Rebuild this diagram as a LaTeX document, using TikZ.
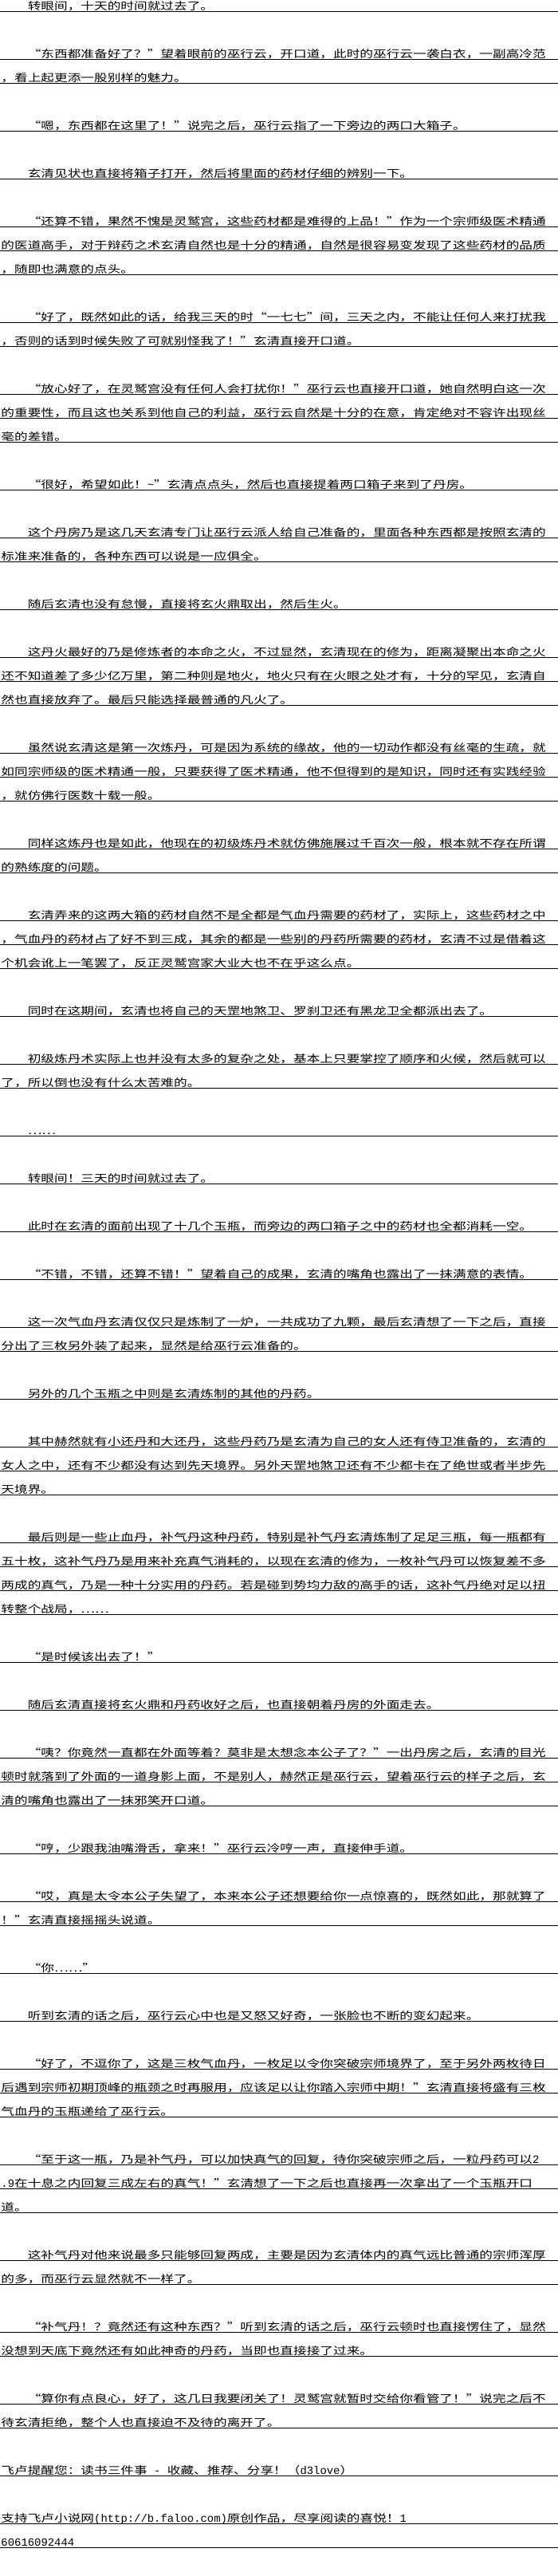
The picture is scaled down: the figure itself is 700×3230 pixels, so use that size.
\documentclass[tikz,border=0pt]{standalone}
\usepackage{fontspec}
\setmainfont[FakeStretch=1.282,RawFeature=+fwid]{Noto Sans CJK SC}
\newfontfamily\halfw{Liberation Mono}
\newcommand\hw[1]{{\halfw\fontsize{13.9}{14}\selectfont #1}}

\begin{document}
\begin{tikzpicture}[x=1pt,y=-1pt,
	txt/.style={anchor=base west,inner sep=0pt,outer sep=0pt,font=\fontsize{13}{13}\selectfont},
	rule/.style={line width=1pt}]
		\fill[white] (0,0) rectangle (700,3230);
		\useasboundingbox (0,0) rectangle (700,3230);
		\foreach \k in {0,2,3,5,7,9,10,11,13,14,16,17,18,20,22,23,25,27,28,29,31,32,33,35,36,38,39,40,42,44,45,47,49,51,53,55,56,58,60,61,62,64,65,66,67,69,71,73,74,75,77,79,80,82,84,86,87,88,90,91,92,94,95,97,98,100,101,103,105,106}
			\draw[rule] (0,14.3+30*\k) -- (700,14.3+30*\k);
		\node[txt] (r0) at (34.8,12.8) {转眼间，十天的时间就过去了。};
		\node[txt] (r2) at (34.8,72.8) {“东西都准备好了？”望着眼前的巫行云，开口道，此时的巫行云一袭白衣，一副高冷范};
		\node[txt] (r3) at (1.5,102.8) {，看上起更添一股别样的魅力。};
		\node[txt] (r5) at (34.8,162.8) {“嗯，东西都在这里了！”说完之后，巫行云指了一下旁边的两口大箱子。};
		\node[txt] (r7) at (34.8,222.8) {玄清见状也直接将箱子打开，然后将里面的药材仔细的辨别一下。};
		\node[txt] (r9) at (34.8,282.8) {“还算不错，果然不愧是灵鹫宫，这些药材都是难得的上品！”作为一个宗师级医术精通};
		\node[txt] (r10) at (1.5,312.8) {的医道高手，对于辩药之术玄清自然也是十分的精通，自然是很容易变发现了这些药材的品质};
		\node[txt] (r11) at (1.5,342.8) {，随即也满意的点头。};
		\node[txt] (r13) at (34.8,402.8) {“好了，既然如此的话，给我三天的时“一七七”间，三天之内，不能让任何人来打扰我};
		\node[txt] (r14) at (1.5,432.8) {，否则的话到时候失败了可就别怪我了！”玄清直接开口道。};
		\node[txt] (r16) at (34.8,492.8) {“放心好了，在灵鹫宫没有任何人会打扰你！”巫行云也直接开口道，她自然明白这一次};
		\node[txt] (r17) at (1.5,522.8) {的重要性，而且这也关系到他自己的利益，巫行云自然是十分的在意，肯定绝对不容许出现丝};
		\node[txt] (r18) at (1.5,552.8) {毫的差错。};
		\node[txt] (r20) at (34.8,612.8) {“很好，希望如此！\hw{\textasciitilde}”玄清点点头，然后也直接提着两口箱子来到了丹房。};
		\node[txt] (r22) at (34.8,672.8) {这个丹房乃是这几天玄清专门让巫行云派人给自己准备的，里面各种东西都是按照玄清的};
		\node[txt] (r23) at (1.5,702.8) {标准来准备的，各种东西可以说是一应俱全。};
		\node[txt] (r25) at (34.8,762.8) {随后玄清也没有怠慢，直接将玄火鼎取出，然后生火。};
		\node[txt] (r27) at (34.8,822.8) {这丹火最好的乃是修炼者的本命之火，不过显然，玄清现在的修为，距离凝聚出本命之火};
		\node[txt] (r28) at (1.5,852.8) {还不知道差了多少亿万里，第二种则是地火，地火只有在火眼之处才有，十分的罕见，玄清自};
		\node[txt] (r29) at (1.5,882.8) {然也直接放弃了。最后只能选择最普通的凡火了。};
		\node[txt] (r31) at (34.8,942.8) {虽然说玄清这是第一次炼丹，可是因为系统的缘故，他的一切动作都没有丝毫的生疏，就};
		\node[txt] (r32) at (1.5,972.8) {如同宗师级的医术精通一般，只要获得了医术精通，他不但得到的是知识，同时还有实践经验};
		\node[txt] (r33) at (1.5,1002.8) {，就仿佛行医数十载一般。};
		\node[txt] (r35) at (34.8,1062.8) {同样这炼丹也是如此，他现在的初级炼丹术就仿佛施展过千百次一般，根本就不存在所谓};
		\node[txt] (r36) at (1.5,1092.8) {的熟练度的问题。};
		\node[txt] (r38) at (34.8,1152.8) {玄清弄来的这两大箱的药材自然不是全都是气血丹需要的药材了，实际上，这些药材之中};
		\node[txt] (r39) at (1.5,1182.8) {，气血丹的药材占了好不到三成，其余的都是一些别的丹药所需要的药材，玄清不过是借着这};
		\node[txt] (r40) at (1.5,1212.8) {个机会讹上一笔罢了，反正灵鹫宫家大业大也不在乎这么点。};
		\node[txt] (r42) at (34.8,1272.8) {同时在这期间，玄清也将自己的天罡地煞卫、罗刹卫还有黑龙卫全都派出去了。};
		\node[txt] (r44) at (34.8,1332.8) {初级炼丹术实际上也并没有太多的复杂之处，基本上只要掌控了顺序和火候，然后就可以};
		\node[txt] (r45) at (1.5,1362.8) {了，所以倒也没有什么太苦难的。};
		\node[txt] (r47) at (34.8,1422.8) {……};
		\node[txt] (r49) at (34.8,1482.8) {转眼间！三天的时间就过去了。};
		\node[txt] (r51) at (34.8,1542.8) {此时在玄清的面前出现了十几个玉瓶，而旁边的两口箱子之中的药材也全都消耗一空。};
		\node[txt] (r53) at (34.8,1602.8) {“不错，不错，还算不错！”望着自己的成果，玄清的嘴角也露出了一抹满意的表情。};
		\node[txt] (r55) at (34.8,1662.8) {这一次气血丹玄清仅仅只是炼制了一炉，一共成功了九颗，最后玄清想了一下之后，直接};
		\node[txt] (r56) at (1.5,1692.8) {分出了三枚另外装了起来，显然是给巫行云准备的。};
		\node[txt] (r58) at (34.8,1752.8) {另外的几个玉瓶之中则是玄清炼制的其他的丹药。};
		\node[txt] (r60) at (34.8,1812.8) {其中赫然就有小还丹和大还丹，这些丹药乃是玄清为自己的女人还有侍卫准备的，玄清的};
		\node[txt] (r61) at (1.5,1842.8) {女人之中，还有不少都没有达到先天境界。另外天罡地煞卫还有不少都卡在了绝世或者半步先};
		\node[txt] (r62) at (1.5,1872.8) {天境界。};
		\node[txt] (r64) at (34.8,1932.8) {最后则是一些止血丹，补气丹这种丹药，特别是补气丹玄清炼制了足足三瓶，每一瓶都有};
		\node[txt] (r65) at (1.5,1962.8) {五十枚，这补气丹乃是用来补充真气消耗的，以现在玄清的修为，一枚补气丹可以恢复差不多};
		\node[txt] (r66) at (1.5,1992.8) {两成的真气，乃是一种十分实用的丹药。若是碰到势均力敌的高手的话，这补气丹绝对足以扭};
		\node[txt] (r67) at (1.5,2022.8) {转整个战局，……};
		\node[txt] (r69) at (34.8,2082.8) {“是时候该出去了！”};
		\node[txt] (r71) at (34.8,2142.8) {随后玄清直接将玄火鼎和丹药收好之后，也直接朝着丹房的外面走去。};
		\node[txt] (r73) at (34.8,2202.8) {“咦？你竟然一直都在外面等着？莫非是太想念本公子了？”一出丹房之后，玄清的目光};
		\node[txt] (r74) at (1.5,2232.8) {顿时就落到了外面的一道身影上面，不是别人，赫然正是巫行云，望着巫行云的样子之后，玄};
		\node[txt] (r75) at (1.5,2262.8) {清的嘴角也露出了一抹邪笑开口道。};
		\node[txt] (r77) at (34.8,2322.8) {“哼，少跟我油嘴滑舌，拿来！”巫行云冷哼一声，直接伸手道。};
		\node[txt] (r79) at (34.8,2382.8) {“哎，真是太令本公子失望了，本来本公子还想要给你一点惊喜的，既然如此，那就算了};
		\node[txt] (r80) at (1.5,2412.8) {！”玄清直接摇摇头说道。};
		\node[txt] (r82) at (34.8,2472.8) {“你……”};
		\node[txt] (r84) at (34.8,2532.8) {听到玄清的话之后，巫行云心中也是又怒又好奇，一张脸也不断的变幻起来。};
		\node[txt] (r86) at (34.8,2592.8) {“好了，不逗你了，这是三枚气血丹，一枚足以令你突破宗师境界了，至于另外两枚待日};
		\node[txt] (r87) at (1.5,2622.8) {后遇到宗师初期顶峰的瓶颈之时再服用，应该足以让你踏入宗师中期！”玄清直接将盛有三枚};
		\node[txt] (r88) at (1.5,2652.8) {气血丹的玉瓶递给了巫行云。};
		\node[txt] (r90) at (34.8,2712.8) {“至于这一瓶，乃是补气丹，可以加快真气的回复，待你突破宗师之后，一粒丹药可以\hw{2}};
		\node[txt] (r91) at (1.5,2742.8) {\hw{.9}在十息之内回复三成左右的真气！”玄清想了一下之后也直接再一次拿出了一个玉瓶开口};
		\node[txt] (r92) at (1.5,2772.8) {道。};
		\node[txt] (r94) at (34.8,2832.8) {这补气丹对他来说最多只能够回复两成，主要是因为玄清体内的真气远比普通的宗师浑厚};
		\node[txt] (r95) at (1.5,2862.8) {的多，而巫行云显然就不一样了。};
		\node[txt] (r97) at (34.8,2922.8) {“补气丹！？竟然还有这种东西？”听到玄清的话之后，巫行云顿时也直接愣住了，显然};
		\node[txt] (r98) at (1.5,2952.8) {没想到天底下竟然还有如此神奇的丹药，当即也直接接了过来。};
		\node[txt] (r100) at (34.8,3012.8) {“算你有点良心，好了，这几日我要闭关了！灵鹫宫就暂时交给你看管了！”说完之后不};
		\node[txt] (r101) at (1.5,3042.8) {待玄清拒绝，整个人也直接迫不及待的离开了。};
		\node[txt] (r103) at (1.5,3102.8) {飞卢提醒您：读书三件事\hw{ - }收藏、推荐、分享！（\hw{d3love}）};
		\node[txt] (r105) at (1.5,3162.8) {支持飞卢小说网\hw{(http://b.faloo.com)}原创作品，尽享阅读的喜悦！\hw{1}};
		\node[txt] (r106) at (1.5,3192.8) {\hw{60616092444}};
	\end{tikzpicture}
\end{document}
